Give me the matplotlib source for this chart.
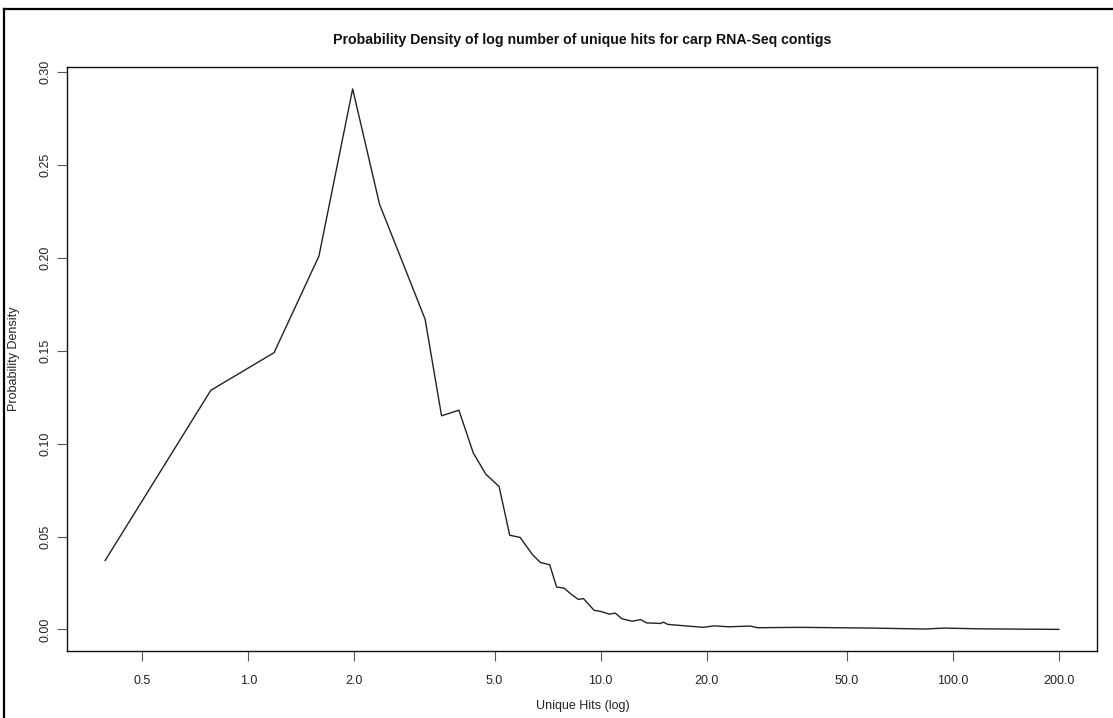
import matplotlib
matplotlib.use('Agg')
import matplotlib.pyplot as plt
from matplotlib.ticker import FixedLocator, NullLocator, FuncFormatter
from matplotlib.lines import Line2D

# unique hits (x) and density (y)
hits = [0.392, 0.782, 1.183, 1.586, 1.977, 2.356, 3.175, 3.535, 3.96, 4.35,
        4.72, 5.15, 5.52, 5.91, 6.41, 6.75, 7.17, 7.5, 7.88, 8.23,
        8.65, 8.94, 9.58, 10.04, 10.6, 11.0, 11.5, 12.3, 13.0, 13.5,
        14.8, 15.1, 15.5, 17.4, 19.6, 21.0, 23.1, 26.6, 27.9, 36.9,
        46.7, 58.9, 83.6, 94.3, 119.0, 200.0]
density = [0.0371, 0.1287, 0.149, 0.201, 0.291, 0.229, 0.167, 0.115, 0.118, 0.095,
           0.0836, 0.0769, 0.0507, 0.0495, 0.0402, 0.036, 0.0348, 0.0228, 0.0222, 0.0191,
           0.0161, 0.0166, 0.0103, 0.0096, 0.0082, 0.0088, 0.0057, 0.0044, 0.0053, 0.0035,
           0.0032, 0.0039, 0.0027, 0.0019, 0.0011, 0.0019, 0.0014, 0.0018, 0.0009, 0.0011,
           0.0009, 0.0007, 0.0002, 0.0007, 0.0003, 0.0]

x_ticks = [0.5, 1, 2, 5, 10, 20, 50, 100, 200]
y_ticks = [0.0, 0.05, 0.10, 0.15, 0.20, 0.25, 0.30]

plt.rcParams['font.family'] = ['Liberation Sans', 'DejaVu Sans']

fig = plt.figure(figsize=(11.13, 7.18), dpi=100)
ax = fig.add_axes([0.0602, 0.0933, 0.9254, 0.8130])

ax.plot(hits, density, color='#222222', linewidth=1.0)
ax.set_xscale('log')
ax.margins(x=0.04, y=0.04)

ax.xaxis.set_major_locator(FixedLocator(x_ticks))
ax.xaxis.set_minor_locator(NullLocator())
ax.xaxis.set_major_formatter(FuncFormatter(lambda v, p: f'{v:.1f}'))
ax.yaxis.set_major_locator(FixedLocator(y_ticks))
ax.yaxis.set_major_formatter(FuncFormatter(lambda v, p: f'{v:.2f}'))

ax.tick_params(axis='both', direction='out', length=7, width=0.8,
               color='#555555', labelsize=9, labelcolor='#222222')
ax.tick_params(axis='x', pad=10)
ax.tick_params(axis='y', pad=4)
for lab in ax.get_yticklabels():
    lab.set_rotation(90)
    lab.set_va('center')

for s in ax.spines.values():
    s.set_linewidth(1.0)
    s.set_color('#111111')

fig.text(0.523, 1 - 40 / 718, 'Probability Density of log number of unique hits for carp RNA-Seq contigs',
         ha='center', va='center', fontsize=10.2, fontweight='bold', color='#111111')
fig.text(0.524, 1 - 706 / 718, 'Unique Hits (log)', ha='center', va='center',
         fontsize=9, color='#222222')
fig.text(14 / 1113, 0.5, 'Probability Density', ha='center', va='center',
         rotation=90, fontsize=9, color='#222222')

# outer frame (top and left edges visible in the reference)
fig.add_artist(Line2D([4 / 1113, 4 / 1113], [0, 1 - 9 / 718], transform=fig.transFigure,
                      color='black', linewidth=1.6))
fig.add_artist(Line2D([4 / 1113, 1], [1 - 9 / 718, 1 - 9 / 718], transform=fig.transFigure,
                      color='black', linewidth=1.6))

fig.savefig('out.png', dpi=100)
